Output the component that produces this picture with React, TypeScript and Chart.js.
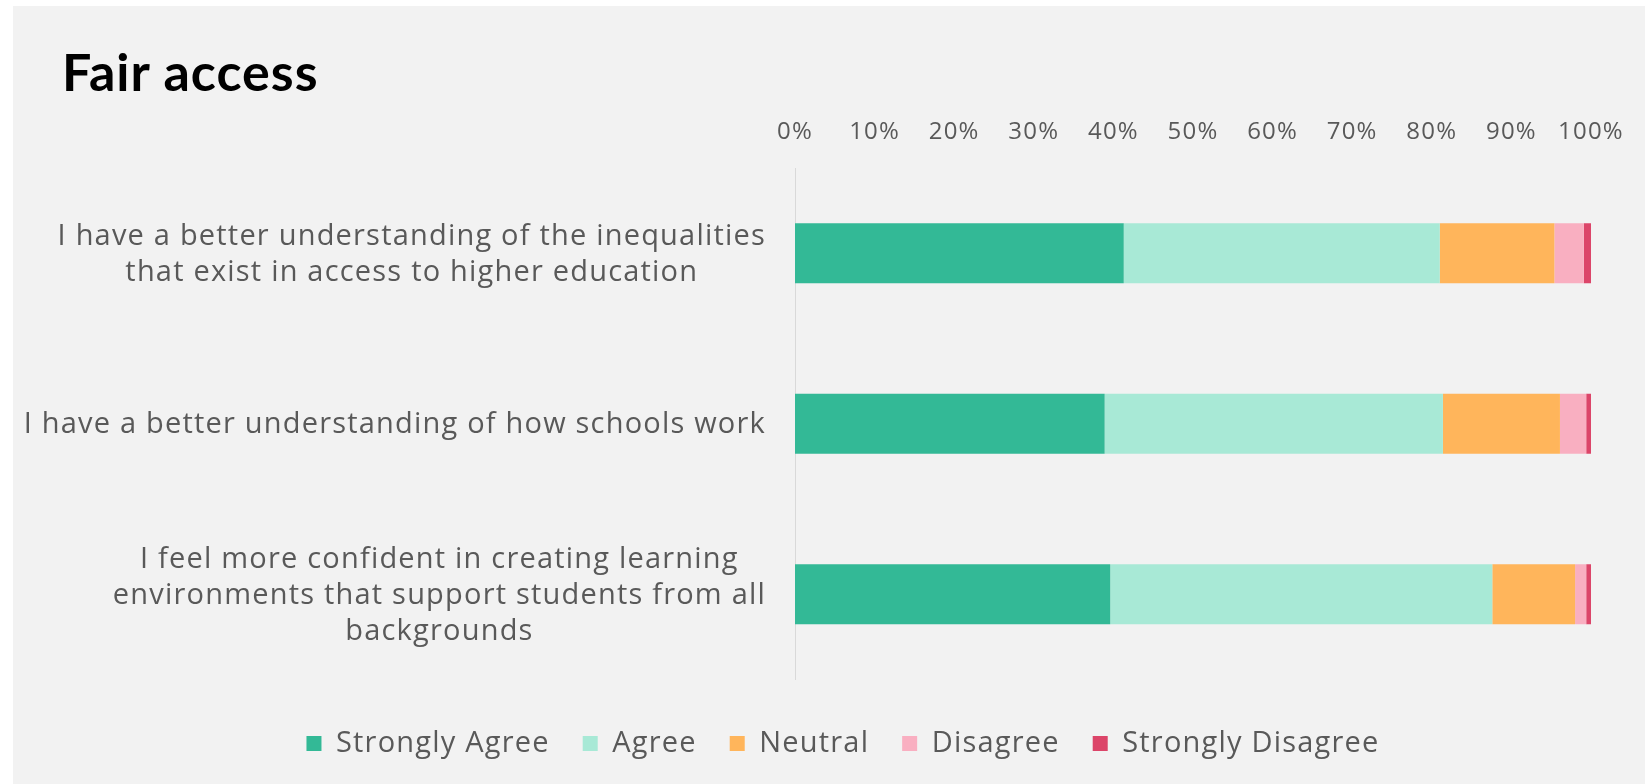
import React, { useEffect, useRef } from "react";
import { Chart, registerables } from "chart.js";

Chart.register(...registerables);

const categories: string[][] = [
  ["I have a better understanding of the inequalities", "that exist in access to higher education"],
  ["I have a better understanding of how schools work"],
  ["I feel more confident in creating learning", "environments that support students from all", "backgrounds"],
];

const seriesNames = ["Strongly Agree", "Agree", "Neutral", "Disagree", "Strongly Disagree"];
const stronglyAgree = [41.3, 38.9, 39.6];
const agree = [39.7, 42.5, 48.0];
const neutral = [14.4, 14.7, 10.4];
const disagree = [3.7, 3.3, 1.4];
const stronglyDisagree = [0.9, 0.6, 0.6];
const seriesColors = ["#33b996", "#a8e9d6", "#ffb55b", "#f9afc1", "#dc4569"];

const xTicks = [0, 10, 20, 30, 40, 50, 60, 70, 80, 90, 100];

const LABEL_FONT = '400 29px "Open Sans"';
const TEXT_COLOR = "#595959";
const SPACING = "1.2px";

const spacingPlugin = {
  id: "spacingPlugin",
  beforeLayout(chart: any) {
    chart.ctx.letterSpacing = SPACING;
  },
  beforeDraw(chart: any) {
    chart.ctx.letterSpacing = SPACING;
  },
};

const yLabelPlugin = {
  id: "yLabelPlugin",
  afterDraw(chart: any) {
    const scale = chart.scales.y;
    const ctx = chart.ctx;
    ctx.save();
    ctx.letterSpacing = SPACING;
    ctx.font = LABEL_FONT;
    ctx.fillStyle = TEXT_COLOR;
    ctx.textAlign = "center";
    ctx.textBaseline = "middle";
    const lh = 36;
    const rightX = scale.right - 29;
    categories.forEach((lines, i) => {
      const y = scale.getPixelForTick(i) + 1;
      const w = Math.max(...lines.map((l) => ctx.measureText(l).width));
      const cx = rightX - w / 2;
      const y0 = y - ((lines.length - 1) * lh) / 2;
      lines.forEach((l, j) => ctx.fillText(l, cx, y0 + j * lh));
    });
    ctx.restore();
  },
};

export default function App() {
  const ref = useRef<HTMLCanvasElement | null>(null);
  useEffect(() => {
    if (!ref.current) return;
    const values = [stronglyAgree, agree, neutral, disagree, stronglyDisagree];
    const chart = new Chart(ref.current, {
      type: "bar",
      data: {
        labels: categories.map((c) => c.join(" ")),
        datasets: seriesNames.map((name, i) => ({
          label: name,
          data: values[i],
          backgroundColor: seriesColors[i],
          borderWidth: 0,
          barPercentage: 0.352,
          categoryPercentage: 1,
        })),
      },
      options: {
        indexAxis: "y",
        animation: false,
        responsive: false,
        layout: { padding: { top: 91.2, right: 54, bottom: 16, left: 82 } },
        scales: {
          x: {
            position: "top",
            stacked: true,
            min: 0,
            max: 100,
            afterBuildTicks: (s: any) => {
              s.ticks = xTicks.map((v) => ({ value: v }));
            },
            ticks: {
              callback: (v: any) => v + "%",
              font: { family: "Open Sans", size: 24, weight: 400 },
              color: TEXT_COLOR,
              padding: 21,
              maxRotation: 0,
              autoSkip: false,
            },
            grid: { display: false, drawTicks: false, tickLength: 0 },
            border: { display: false },
          },
          y: {
            stacked: true,
            afterFit: (s: any) => {
              s.width = 700;
            },
            ticks: { display: false },
            grid: { display: false, drawTicks: false },
            border: { display: true, color: "#d9d9d9", width: 1 },
          },
        },
        plugins: {
          legend: {
            position: "bottom",
            title: { display: true, text: "", font: { size: 1 }, padding: { top: 15.3, bottom: 0 } },
            labels: {
              boxWidth: 15,
              boxHeight: 15,
              padding: 33,
              color: TEXT_COLOR,
              font: { family: "Open Sans", size: 29, weight: 400 },
            },
          },
          title: { display: false },
          tooltip: { enabled: false },
        },
      },
      plugins: [spacingPlugin, yLabelPlugin],
    });
    return () => chart.destroy();
  }, []);

  return (
    <div style={{ position: "absolute", left: 0, top: 0, width: 1645, height: 784, background: "#ffffff", overflow: "hidden" }}>
      <div style={{ position: "absolute", left: 13, top: 6, width: 1632, height: 778, background: "#f2f2f2" }}>
        <canvas ref={ref} width={1632} height={778} style={{ position: "absolute", left: 0, top: 0, width: 1632, height: 778 }} />
        <div
          style={{
            position: "absolute",
            left: 49,
            top: 38.5,
            font: '700 52px Lato',
            lineHeight: "52px",
            letterSpacing: "1px",
            color: "#000",
            whiteSpace: "nowrap",
          }}
        >
          Fair access
        </div>
      </div>
    </div>
  );
}
